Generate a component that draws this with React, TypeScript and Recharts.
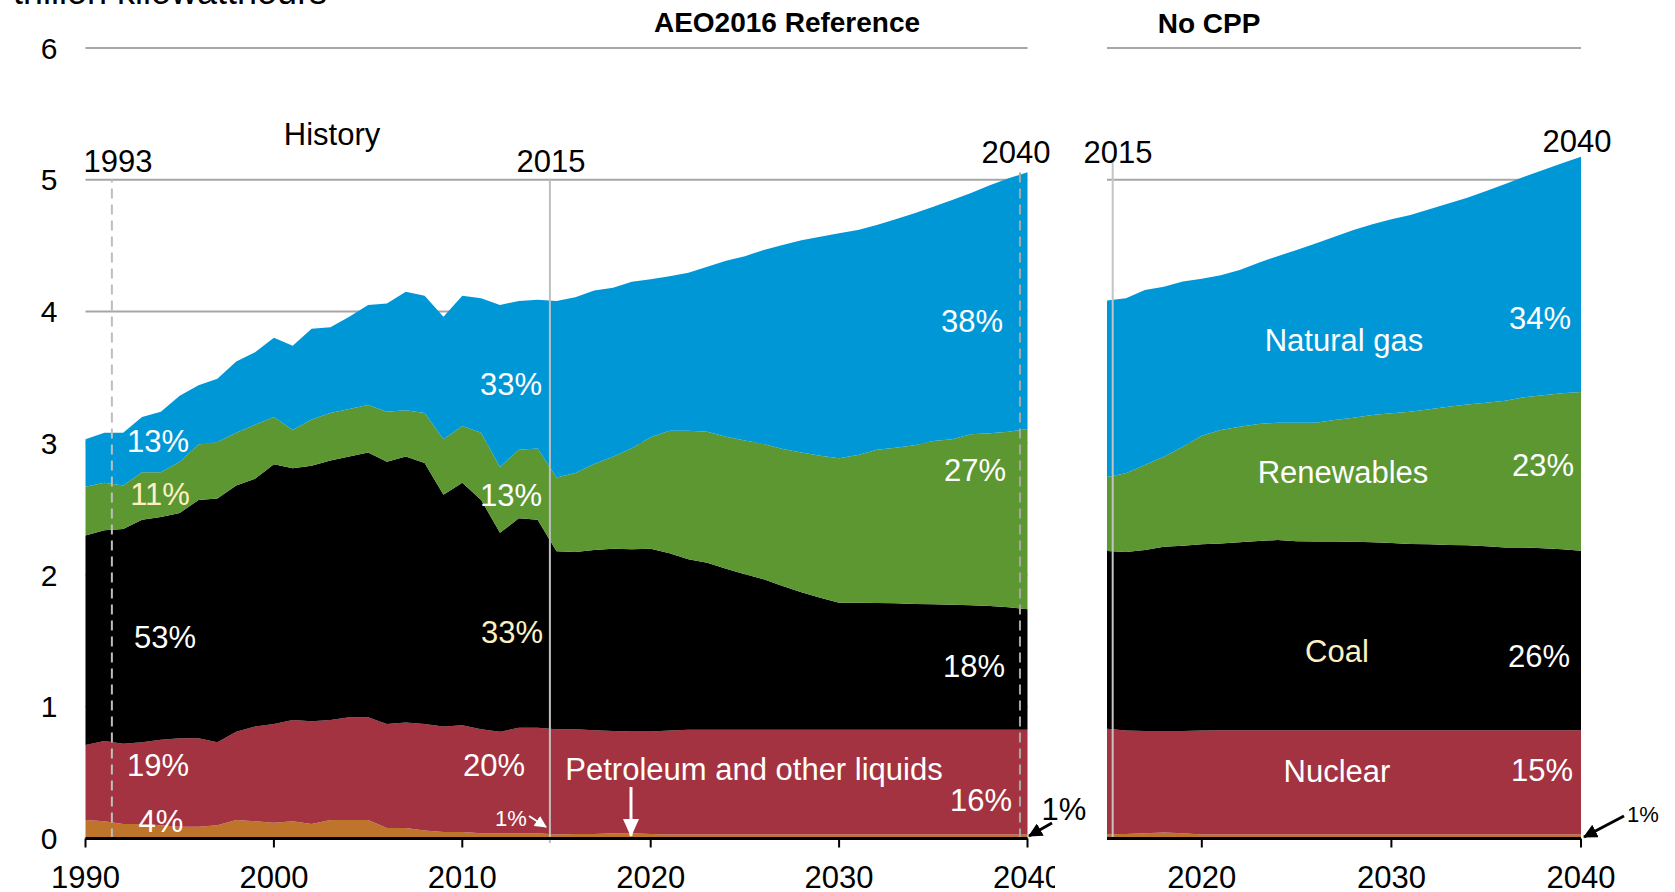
import { Area, AreaChart, CartesianGrid, ReferenceLine, XAxis, YAxis } from "recharts";

// AEO2016 Reference case, trillion kWh by fuel (stack order bottom -> top)
const refYears = [
  1990, 1991, 1992, 1993, 1994, 1995, 1996, 1997, 1998, 1999,
  2000, 2001, 2002, 2003, 2004, 2005, 2006, 2007, 2008, 2009,
  2010, 2011, 2012, 2013, 2014, 2015, 2016, 2017, 2018, 2019,
  2020, 2021, 2022, 2023, 2024, 2025, 2026, 2027, 2028, 2029,
  2030, 2031, 2032, 2033, 2034, 2035, 2036, 2037, 2038, 2039, 2040,
];
const refPetroleum = [
  0.14, 0.13, 0.11, 0.11, 0.1, 0.09, 0.09, 0.1, 0.14, 0.13,
  0.12, 0.13, 0.11, 0.14, 0.14, 0.14, 0.08, 0.08, 0.06, 0.05,
  0.05, 0.04, 0.04, 0.04, 0.04, 0.03, 0.035, 0.035, 0.04, 0.04,
  0.035, 0.03, 0.03, 0.03, 0.03, 0.03, 0.03, 0.03, 0.03, 0.03,
  0.03, 0.03, 0.03, 0.03, 0.03, 0.03, 0.03, 0.03, 0.03, 0.03, 0.03,
];
const refNuclear = [
  0.57, 0.61, 0.61, 0.62, 0.65, 0.67, 0.67, 0.63, 0.67, 0.72,
  0.75, 0.77, 0.78, 0.76, 0.78, 0.78, 0.79, 0.8, 0.81, 0.8,
  0.81, 0.79, 0.77, 0.8, 0.8, 0.8, 0.795, 0.787, 0.775, 0.772,
  0.777, 0.79, 0.795, 0.795, 0.795, 0.795, 0.795, 0.795, 0.795, 0.795,
  0.795, 0.795, 0.795, 0.795, 0.795, 0.795, 0.795, 0.795, 0.795, 0.795, 0.795,
];
const refCoal = [
  1.59, 1.6, 1.63, 1.69, 1.69, 1.71, 1.81, 1.85, 1.87, 1.88,
  1.97, 1.91, 1.94, 1.97, 1.98, 2.01, 1.99, 2.02, 1.98, 1.76,
  1.84, 1.74, 1.51, 1.59, 1.58, 1.35, 1.345, 1.368, 1.385, 1.383,
  1.388, 1.345, 1.295, 1.268, 1.223, 1.18, 1.142, 1.092, 1.044, 1.003,
  0.965, 0.965, 0.963, 0.96, 0.955, 0.953, 0.95, 0.945, 0.94, 0.93, 0.915,
];
const refRenewables = [
  0.37, 0.36, 0.33, 0.36, 0.34, 0.39, 0.42, 0.43, 0.4, 0.41,
  0.36, 0.29, 0.35, 0.36, 0.36, 0.36, 0.38, 0.35, 0.38, 0.42,
  0.43, 0.51, 0.5, 0.52, 0.54, 0.56, 0.6, 0.653, 0.698, 0.767,
  0.845, 0.93, 0.975, 0.995, 1.002, 1.015, 1.027, 1.039, 1.061, 1.078,
  1.096, 1.121, 1.162, 1.181, 1.205, 1.239, 1.255, 1.298, 1.31, 1.333, 1.368,
];
const refGas = [
  0.36, 0.38, 0.4, 0.42, 0.46, 0.5, 0.45, 0.48, 0.54, 0.55,
  0.6, 0.64, 0.69, 0.65, 0.7, 0.76, 0.82, 0.9, 0.89, 0.93,
  0.99, 1.02, 1.23, 1.13, 1.13, 1.34, 1.333, 1.317, 1.282, 1.264,
  1.199, 1.172, 1.2, 1.252, 1.336, 1.4, 1.473, 1.549, 1.61, 1.662,
  1.707, 1.708, 1.706, 1.734, 1.76, 1.778, 1.816, 1.832, 1.883, 1.923, 1.948,
];

// No CPP case
const noCppYears = [
  2015, 2016, 2017, 2018, 2019, 2020, 2021, 2022, 2023, 2024, 2025, 2026, 2027,
  2028, 2029, 2030, 2031, 2032, 2033, 2034, 2035, 2036, 2037, 2038, 2039, 2040,
];
const noCppPetroleum = [
  0.033, 0.035, 0.04, 0.045, 0.04, 0.03, 0.03, 0.03, 0.03, 0.03, 0.03, 0.03, 0.03,
  0.03, 0.03, 0.03, 0.03, 0.03, 0.03, 0.03, 0.03, 0.03, 0.03, 0.03, 0.03, 0.03,
];
const noCppNuclear = [
  0.8, 0.785, 0.775, 0.77, 0.775, 0.79, 0.792, 0.792, 0.792, 0.792, 0.792, 0.792, 0.792,
  0.792, 0.792, 0.792, 0.792, 0.792, 0.792, 0.792, 0.792, 0.792, 0.792, 0.792, 0.792, 0.792,
];
const noCppCoal = [
  1.35, 1.355, 1.375, 1.4, 1.407, 1.413, 1.418, 1.426, 1.436, 1.444, 1.434, 1.432, 1.432,
  1.43, 1.426, 1.421, 1.413, 1.411, 1.406, 1.403, 1.396, 1.386, 1.386, 1.381, 1.373, 1.363,
];
const noCppRenewables = [
  0.56, 0.597, 0.645, 0.683, 0.752, 0.824, 0.86, 0.878, 0.888, 0.89, 0.9, 0.902, 0.922,
  0.942, 0.966, 0.984, 1.005, 1.025, 1.049, 1.07, 1.09, 1.115, 1.141, 1.161, 1.184, 1.204,
];
const noCppGas = [
  1.341, 1.328, 1.328, 1.29, 1.254, 1.192, 1.175, 1.189, 1.224, 1.264, 1.311, 1.361, 1.392,
  1.425, 1.448, 1.473, 1.493, 1.518, 1.543, 1.569, 1.607, 1.645, 1.674, 1.71, 1.746, 1.786,
];

const yTicks = [0, 1, 2, 3, 4, 5, 6];
const refTicks = [1990, 2000, 2010, 2020, 2030, 2040];
const noCppTicks = [2020, 2030, 2040];

const FONT = '"Liberation Sans", Arial, Helvetica, sans-serif';
const YELLOW = "#fdf1c4";

const series = [
  { key: "petroleum", color: "#bf742b" },
  { key: "nuclear", color: "#a33341" },
  { key: "coal", color: "#000000" },
  { key: "renewables", color: "#5c9732" },
  { key: "gas", color: "#0097d7" },
];

const refData = refYears.map((year, i) => ({
  year,
  petroleum: refPetroleum[i],
  nuclear: refNuclear[i],
  coal: refCoal[i],
  renewables: refRenewables[i],
  gas: refGas[i],
}));

const noCppData = noCppYears.map((year, i) => ({
  year,
  petroleum: noCppPetroleum[i],
  nuclear: noCppNuclear[i],
  coal: noCppCoal[i],
  renewables: noCppRenewables[i],
  gas: noCppGas[i],
}));

const xAxisProps = {
  type: "number" as const,
  dataKey: "year",
  interval: 0 as const,
  height: 50,
  axisLine: { stroke: "#000", strokeWidth: 3 },
  tickLine: { stroke: "#000", strokeWidth: 2 },
  tickSize: 9,
  tickMargin: 18,
  tick: { fill: "#000", fontSize: 31, fontFamily: FONT },
};

function Areas() {
  return (
    <>
      {series.map((s) => (
        <Area
          key={s.key}
          type="linear"
          dataKey={s.key}
          stackId="gen"
          stroke="none"
          fill={s.color}
          fillOpacity={1}
          dot={false}
          activeDot={false}
          isAnimationActive={false}
        />
      ))}
    </>
  );
}

function Label({ x, y, text, size = 31, fill = "#fff", weight = "normal", anchor = "middle" }: any) {
  return (
    <text x={x} y={y} fontSize={size} fill={fill} fontWeight={weight} textAnchor={anchor} fontFamily={FONT}>
      {text}
    </text>
  );
}

export default function App() {
  return (
    <div
      style={{
        position: "absolute",
        left: 0,
        top: 0,
        width: 1675,
        height: 892,
        background: "#fff",
        overflow: "hidden",
        fontFamily: FONT,
      }}
    >
      <div style={{ position: "absolute", left: 0, top: 0 }}>
        <AreaChart width={1055} height={892} data={refData} margin={{ top: 48, right: 27.5, bottom: 3.5, left: 15.5 }}>
          <CartesianGrid vertical={false} stroke="#a6a6a6" strokeWidth={2} />
          <XAxis {...xAxisProps} domain={[1990, 2040]} ticks={refTicks} />
          <YAxis
            domain={[0, 6]}
            ticks={yTicks}
            width={70}
            axisLine={false}
            tickLine={false}
            tickSize={0}
            tickMargin={28}
            tick={{ fill: "#000", fontSize: 30, fontFamily: FONT }}
          />
          {Areas()}
          <ReferenceLine
            segment={[{ x: 1991.4, y: 0 }, { x: 1991.4, y: 5 }]}
            stroke="#bdbdbd"
            strokeWidth={2}
            strokeDasharray="10 6"
            ifOverflow="visible"
          />
          <ReferenceLine
            segment={[{ x: 2014.65, y: -0.035 }, { x: 2014.65, y: 5 }]}
            stroke="#bfbfbf"
            strokeWidth={2}
            ifOverflow="visible"
          />
          <ReferenceLine
            segment={[{ x: 2039.6, y: 0 }, { x: 2039.6, y: 5.06 }]}
            stroke="#a6a6a6"
            strokeWidth={2}
            strokeDasharray="10 6"
            ifOverflow="visible"
          />
        </AreaChart>
      </div>

      <div style={{ position: "absolute", left: 1060, top: 0 }}>
        <AreaChart width={615} height={892} data={noCppData} margin={{ top: 48, right: 94, bottom: 3.5, left: 47 }}>
          <CartesianGrid vertical={false} stroke="#a6a6a6" strokeWidth={2} />
          <XAxis {...xAxisProps} domain={[2015, 2040]} ticks={noCppTicks} />
          <YAxis hide width={0} domain={[0, 6]} ticks={yTicks} />
          {Areas()}
          <ReferenceLine
            segment={[{ x: 2015.3, y: 0 }, { x: 2015.3, y: 5.15 }]}
            stroke="#c4c4c4"
            strokeWidth={2}
            ifOverflow="visible"
          />
        </AreaChart>
      </div>

      <svg
        width={1675}
        height={892}
        style={{ position: "absolute", left: 0, top: 0, pointerEvents: "none" }}
      >
        <defs>
          <marker id="headWhiteBig" markerWidth="18" markerHeight="18" refX="17" refY="9" orient="auto" markerUnits="userSpaceOnUse">
            <path d="M0,1 L18,9 L0,17 z" fill="#fff" />
          </marker>
          <marker id="headWhiteSmall" markerWidth="12" markerHeight="12" refX="11" refY="6" orient="auto" markerUnits="userSpaceOnUse">
            <path d="M0,0 L12,6 L0,12 z" fill="#fff" />
          </marker>
          <marker id="headBlack" markerWidth="14" markerHeight="14" refX="13" refY="7" orient="auto" markerUnits="userSpaceOnUse">
            <path d="M0,0 L14,7 L0,14 z" fill="#000" />
          </marker>
        </defs>

        {/* header */}
        <Label x={13} y={4} text="trillion kilowatthours" size={36} fill="#000" anchor="start" />
        <Label x={787} y={32} text="AEO2016 Reference" size={28} fill="#000" weight="bold" />
        <Label x={1209} y={33} text="No CPP" size={28} fill="#000" weight="bold" />

        {/* period markers */}
        <Label x={332} y={145} text="History" fill="#000" />
        <Label x={118} y={172} text="1993" fill="#000" />
        <Label x={551} y={172} text="2015" fill="#000" />
        <Label x={1016} y={163} text="2040" fill="#000" />
        <Label x={1118} y={163} text="2015" fill="#000" />
        <Label x={1577} y={152} text="2040" fill="#000" />

        {/* reference case shares */}
        <Label x={158} y={452} text="13%" />
        <Label x={160} y={505} text="11%" fill={YELLOW} />
        <Label x={165} y={648} text="53%" />
        <Label x={158} y={776} text="19%" />
        <Label x={161} y={832} text="4%" />
        <Label x={511} y={395} text="33%" />
        <Label x={511} y={506} text="13%" />
        <Label x={512} y={643} text="33%" fill={YELLOW} />
        <Label x={494} y={776} text="20%" />
        <Label x={511} y={826} text="1%" size={22} />
        <Label x={972} y={332} text="38%" />
        <Label x={975} y={481} text="27%" />
        <Label x={974} y={677} text="18%" />
        <Label x={981} y={811} text="16%" />
        <Label x={754} y={780} text="Petroleum and other liquids" />
        <Label x={1064} y={820} text="1%" fill="#000" />

        {/* no CPP case */}
        <Label x={1344} y={351} text="Natural gas" />
        <Label x={1540} y={329} text="34%" />
        <Label x={1343} y={483} text="Renewables" />
        <Label x={1543} y={476} text="23%" />
        <Label x={1337} y={662} text="Coal" fill={YELLOW} />
        <Label x={1539} y={667} text="26%" />
        <Label x={1337} y={782} text="Nuclear" />
        <Label x={1542} y={781} text="15%" />
        <Label x={1643} y={822} text="1%" size={22} fill="#000" />

        {/* arrows */}
        <line x1={529} y1={816} x2={546} y2={827} stroke="#fff" strokeWidth={2} markerEnd="url(#headWhiteSmall)" />
        <line x1={631} y1={787} x2={631} y2={836} stroke="#fff" strokeWidth={3} markerEnd="url(#headWhiteBig)" />
        <line x1={1052} y1={823} x2={1029} y2={836} stroke="#000" strokeWidth={3} markerEnd="url(#headBlack)" />
        <line x1={1624} y1={816} x2={1584} y2={837} stroke="#000" strokeWidth={3} markerEnd="url(#headBlack)" />
      </svg>
    </div>
  );
}
